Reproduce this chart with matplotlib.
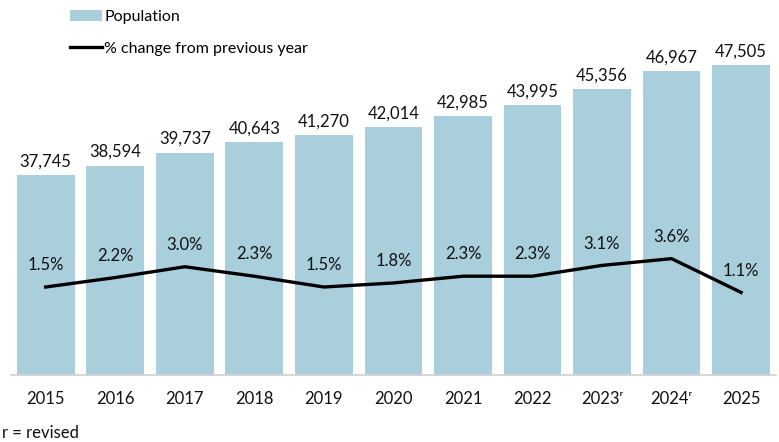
import matplotlib.pyplot as plt
from matplotlib.patches import Patch
from matplotlib.lines import Line2D

plt.rcParams['font.family'] = ['Lato', 'DejaVu Sans']

years = ['2015', '2016', '2017', '2018', '2019', '2020', '2021', '2022', '2023ʳ', '2024ʳ', '2025']
population = [37745, 38594, 39737, 40643, 41270, 42014, 42985, 43995, 45356, 46967, 47505]
pct_change = [1.5, 2.2, 3.0, 2.3, 1.5, 1.8, 2.3, 2.3, 3.1, 3.6, 1.1]

bar_color = '#A9CEDC'

fig = plt.figure(figsize=(7.79, 4.42), dpi=100)
ax = fig.add_axes([0.014, 0.152, 0.982, 0.764])
x = range(len(years))

ax.bar(x, population, width=0.83, color=bar_color, zorder=2)
for xi, v in zip(x, population):
    ax.annotate(f'{v:,}', (xi, v), xytext=(0, 4), textcoords='offset points',
                ha='center', va='bottom', fontsize=12, color='#111111')

ax.set_ylim(20000, 50000)
ax.set_xlim(-0.5, len(years) - 0.5)
ax.set_yticks([])
ax.set_xticks(list(x))
ax.set_xticklabels(years, fontsize=12, color='#111111')
ax.tick_params(axis='x', length=0, pad=12)
for s in ['top', 'right', 'left']:
    ax.spines[s].set_visible(False)
ax.spines['bottom'].set_color('#d0d0d0')
ax.spines['bottom'].set_linewidth(1.2)

# percentage change on a second axis
ax2 = ax.twinx()
ax2.plot(x, pct_change, color='black', linewidth=2.4, zorder=3)
for xi, v in zip(x, pct_change):
    ax2.annotate(f'{v:.1f}%', (xi, v), xytext=(0, 10), textcoords='offset points',
                 ha='center', va='bottom', fontsize=12, color='#111111')
ax2.set_ylim(-5, 20)
ax2.set_yticks([])
for s in ax2.spines.values():
    s.set_visible(False)

handles = [Patch(facecolor=bar_color, edgecolor='none'),
           Line2D([0], [0], color='black', linewidth=2.4)]
fig.legend(handles, ['Population', '% change from previous year'],
           loc='upper left', bbox_to_anchor=(0.072, 1.01), frameon=False,
           fontsize=11.5, handlelength=2.0, handletextpad=0.1, labelspacing=1.1)

fig.text(0.003, 0.008, 'r = revised', fontsize=12, color='#111111')

fig.savefig('out.png', dpi=100)
